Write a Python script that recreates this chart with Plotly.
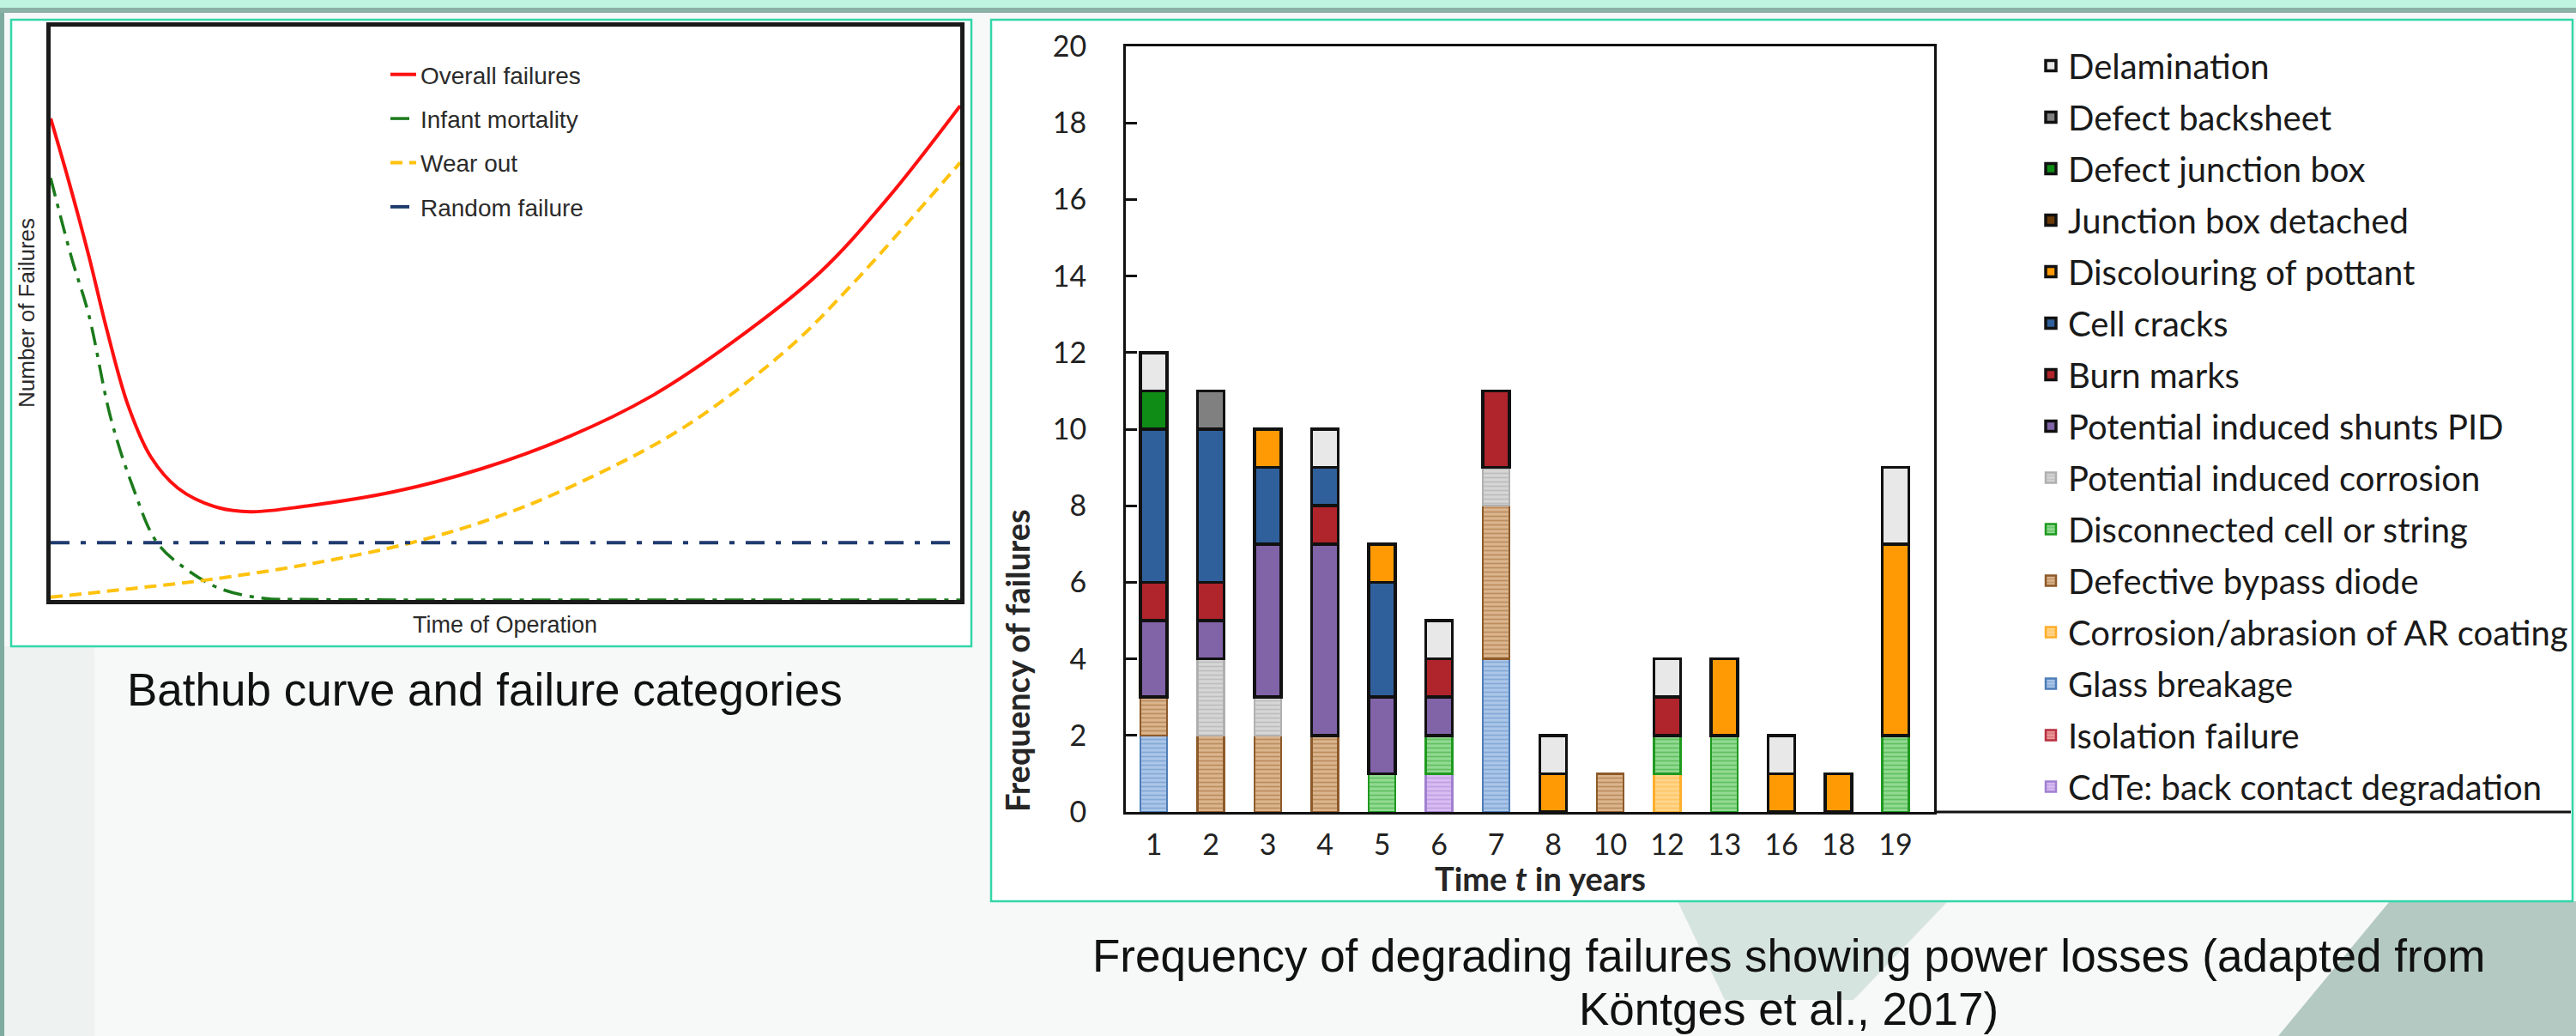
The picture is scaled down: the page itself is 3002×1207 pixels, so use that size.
import plotly.graph_objects as go

W, H = 3002, 1207

# ---------------- data: bar chart (frequency of failures) ----------------
years = ["1", "2", "3", "4", "5", "6", "7", "8", "10", "12", "13", "16", "18", "19"]

cdte_back_contact   = [0, 0, 0, 0, 0, 1, 0, 0, 0, 0, 0, 0, 0, 0]
isolation_failure   = [0, 0, 0, 0, 0, 0, 0, 0, 0, 0, 0, 0, 0, 0]
glass_breakage      = [2, 0, 0, 0, 0, 0, 4, 0, 0, 0, 0, 0, 0, 0]
corrosion_ar        = [0, 0, 0, 0, 0, 0, 0, 0, 0, 1, 0, 0, 0, 0]
bypass_diode        = [1, 2, 2, 2, 0, 0, 4, 0, 1, 0, 0, 0, 0, 0]
disconnected        = [0, 0, 0, 0, 1, 1, 0, 0, 0, 1, 2, 0, 0, 2]
pid_corrosion       = [0, 2, 1, 0, 0, 0, 1, 0, 0, 0, 0, 0, 0, 0]
pid_shunts          = [2, 1, 4, 5, 2, 1, 0, 0, 0, 0, 0, 0, 0, 0]
burn_marks          = [1, 1, 0, 1, 0, 1, 2, 0, 0, 1, 0, 0, 0, 0]
cell_cracks         = [4, 4, 2, 1, 3, 0, 0, 0, 0, 0, 0, 0, 0, 0]
discolouring        = [0, 0, 1, 0, 1, 0, 0, 1, 0, 0, 2, 1, 1, 5]
jbox_detached       = [0, 0, 0, 0, 0, 0, 0, 0, 0, 0, 0, 0, 0, 0]
defect_jbox         = [1, 0, 0, 0, 0, 0, 0, 0, 0, 0, 0, 0, 0, 0]
defect_backsheet    = [0, 1, 0, 0, 0, 0, 0, 0, 0, 0, 0, 0, 0, 0]
delamination        = [1, 0, 0, 1, 0, 1, 0, 1, 0, 1, 0, 1, 0, 2]

# ---------------- data: bathtub curve (0-100 scale) ----------------
overall_x = [0, 2, 4.2, 6.2, 8.5, 11, 14, 18, 22, 28.2, 37.8, 47.4, 57, 66, 75, 84.5, 92, 100]
overall_y = [84, 73, 60, 47, 34, 25, 19.5, 16.3, 15.4, 16.4, 18.9, 22.9, 28.5, 35.5, 45, 57, 70, 86.2]
infant_x = [0, 2.3, 4.2, 6.6, 9.0, 11.7, 14.8, 18.6, 23.4, 28, 60, 100]
infant_y = [73.6, 59.7, 49.7, 31.8, 19.9, 10.0, 5.5, 2.0, 0.3, 0.1, 0, 0]
wear_x = [0, 9, 17.2, 28.2, 39.7, 49.8, 59.4, 69.8, 80.9, 88.1, 100]
wear_y = [0.5, 2.0, 3.5, 6.2, 10.0, 14.9, 21.4, 30.3, 43.6, 55.0, 76.3]
random_x = [0, 98.9]
random_y = [10, 10]


def X(px):
    return px / W


def Y(py):
    return 1 - py / H


fig = go.Figure()

# ---------------- bar traces (bottom to top of stack) ----------------
solid = lambda c: dict(color=c, line=dict(color="#111111", width=3.5))


def hatched(bg, fg, edge):
    return dict(color=bg, line=dict(color=edge, width=2.5),
                pattern=dict(shape="-", bgcolor=bg, fgcolor=fg, size=5, solidity=0.35))


series = [
    ("CdTe: back contact degradation", cdte_back_contact, hatched("#d9bdf2", "#a783d6", "#a080d0")),
    ("Isolation failure", isolation_failure, hatched("#eb9a9a", "#c23d48", "#b83040")),
    ("Glass breakage", glass_breakage, hatched("#abc6e8", "#5e8cc6", "#4f7db8")),
    ("Corrosion/abrasion of AR coating", corrosion_ar, hatched("#ffd58a", "#ffb640", "#ffae2a")),
    ("Defective bypass diode", bypass_diode, hatched("#dbb58e", "#9c6630", "#8d5a2a")),
    ("Disconnected cell or string", disconnected, hatched("#93da93", "#2ea52e", "#1f9a1f")),
    ("Potential induced corrosion", pid_corrosion, hatched("#d6d6d6", "#a4a4a4", "#b0b0b0")),
    ("Potential induced shunts PID", pid_shunts, solid("#8163a8")),
    ("Burn marks", burn_marks, solid("#b0242b")),
    ("Cell cracks", cell_cracks, solid("#30609b")),
    ("Discolouring of pottant", discolouring, solid("#ff9a05")),
    ("Junction box detached", jbox_detached, solid("#6a3a08")),
    ("Defect junction box", defect_jbox, solid("#0f8c16")),
    ("Defect backsheet", defect_backsheet, solid("#808080")),
    ("Delamination", delamination, solid("#e8e8e8")),
]

for i, (name, vals, mk) in enumerate(series):
    fig.add_trace(go.Bar(
        x=years, y=[v if v else None for v in vals], name=name,
        marker=mk, width=0.47, legendgroup=name, legend="legend",
        legendrank=100 - i,
        xaxis="x", yaxis="y", hoverinfo="x+y+name",
    ))

# ---------------- bathtub lines ----------------
lines = [
    ("Overall failures", overall_x, overall_y, dict(color="#ff1010", width=4)),
    ("Infant mortality", infant_x, infant_y, dict(color="#1b7a1b", width=3.5, dash="22px,9px,5px,9px")),
    ("Wear out", wear_x, wear_y, dict(color="#ffc20e", width=4, dash="14px,8px")),
    ("Random failure", random_x, random_y, dict(color="#1f3b6e", width=4, dash="22px,13px,6px,13px")),
]
for i, (name, xs, ys, ln) in enumerate(lines):
    fig.add_trace(go.Scatter(
        x=xs, y=ys, name=name, mode="lines", line=dict(shape="spline", smoothing=1.0, **ln),
        xaxis="x2", yaxis="y2", legend="legend2", legendgroup=name, legendrank=i + 1,
    ))

# ---------------- background / panels ----------------
shapes = []
def rect(x0, y0, x1, y1, fill, line_color=None, lw=0, layer="below"):
    shapes.append(dict(type="rect", xref="paper", yref="paper",
                       x0=X(x0), x1=X(x1), y0=Y(y1), y1=Y(y0),
                       fillcolor=fill, line=dict(color=line_color or fill, width=lw), layer=layer))

rect(0, 0, W, 9, "#bff5e0")
rect(0, 9, W, 15, "#8bb1a6")
rect(0, 15, 5, H, "#7eab9f")
rect(5, 753, 110, H, "#eef2f0")
# light green-grey decorative shapes on lower right
shapes.append(dict(type="path", xref="paper", yref="paper", layer="below",
                   path=f"M {X(1955)},{Y(1050)} L {X(2270)},{Y(1050)} L {X(2160)},{Y(1165)} L {X(2010)},{Y(1165)} Z",
                   fillcolor="#d6e4df", line=dict(width=0)))
shapes.append(dict(type="path", xref="paper", yref="paper", layer="below",
                   path=f"M {X(2785)},{Y(1050)} L {X(W)},{Y(1050)} L {X(W)},{Y(H)} L {X(2655)},{Y(H)} Z",
                   fillcolor="#b3c9c1", line=dict(width=0)))
# white panels with teal borders
rect(13, 23, 1132, 753, "white", "#33d6a8", 2.5)
rect(1155, 23, 2998, 1050, "white", "#33d6a8", 2.5)
# x-axis line continuing under the legend
shapes.append(dict(type="line", xref="paper", yref="paper", layer="above",
                   x0=X(2254), x1=X(2996), y0=Y(946), y1=Y(946),
                   line=dict(color="#111111", width=3)))

annotations = [
    dict(text="Bathub curve and failure categories", x=X(565), y=Y(803),
         font=dict(family="Liberation Sans, Arial", size=53, color="#111111")),
    dict(text="Frequency of degrading failures showing power losses (adapted from", x=X(2084), y=Y(1113),
         font=dict(family="Liberation Sans, Arial", size=53, color="#111111")),
    dict(text="Köntges et al., 2017)", x=X(2084), y=Y(1175),
         font=dict(family="Liberation Sans, Arial", size=53, color="#111111")),
    dict(text="Time of Operation", x=X(588), y=Y(728),
         font=dict(family="Liberation Sans, Arial", size=27, color="#2b2b2b")),
    dict(text="Number of Failures", x=X(31), y=Y(365), textangle=-90,
         font=dict(family="Liberation Sans, Arial", size=26, color="#2b2b2b")),
    dict(text="<b>Frequency of failures</b>", x=X(1185), y=Y(770), textangle=-90,
         font=dict(family="Lato", size=38, color="#262626")),
    dict(text="<b>Time <i>t</i> in years</b>", x=X(1795), y=Y(1023),
         font=dict(family="Lato", size=38, color="#262626")),
]
for a in annotations:
    a.update(xref="paper", yref="paper", showarrow=False, xanchor="center", yanchor="middle")

fig.update_layout(
    width=W, height=H, autosize=False,
    margin=dict(l=0, r=0, t=0, b=0, pad=0, autoexpand=False),
    paper_bgcolor="#f7f8f8", plot_bgcolor="rgba(0,0,0,0)",
    barmode="stack", bargap=0.5,
    shapes=shapes, annotations=annotations,
    font=dict(family="Lato", color="#222222"),
    xaxis=dict(domain=[X(1312), X(2254)], type="category", range=[-0.489, 13.676],
               showline=True, linewidth=3, linecolor="#111111", mirror=True,
               ticks="", showgrid=False, zeroline=False, anchor="y", automargin=False,
               tickfont=dict(family="Lato", size=34, color="#222222"), ticklabelstandoff=6),
    yaxis=dict(domain=[Y(946), Y(54)], range=[0, 20], dtick=2, tick0=0,
               showline=True, linewidth=3, linecolor="#111111", mirror=True,
               ticks="inside", ticklen=13, tickwidth=3, tickcolor="#111111",
               showgrid=False, zeroline=False, anchor="x", automargin=False,
               tickfont=dict(family="Lato", size=34, color="#222222"), ticklabelstandoff=36),
    yaxis3=dict(overlaying="y", side="right", anchor="x", range=[0, 20], dtick=2, tick0=0,
                ticks="inside", ticklen=14, tickwidth=3, tickcolor="#111111",
                minor=dict(dtick=1, ticks="inside", ticklen=9, tickwidth=3, tickcolor="#111111"),
                showticklabels=False, showgrid=False, zeroline=False, showline=False,
                automargin=False),
    xaxis2=dict(domain=[X(59), X(1119)], range=[0, 100], showline=True, linewidth=4.5,
                linecolor="#1a1a1a", mirror=True, ticks="", showticklabels=False,
                showgrid=False, zeroline=False, anchor="y2", layer="below traces",
                automargin=False),
    yaxis2=dict(domain=[Y(699), Y(31)], range=[0, 100], showline=True, linewidth=4.5,
                linecolor="#1a1a1a", mirror=True, ticks="", showticklabels=False,
                showgrid=False, zeroline=False, anchor="x2", layer="below traces",
                automargin=False),
    legend=dict(x=X(2370), xanchor="left", y=Y(44), yanchor="top",
                font=dict(family="Lato", size=40, color="#1a1a1a"),
                traceorder="grouped", tracegroupgap=5,
                bgcolor="rgba(0,0,0,0)", borderwidth=0),
    legend2=dict(x=X(450), xanchor="left", y=Y(62), yanchor="top",
                 font=dict(family="Liberation Sans, Arial", size=28, color="#2b2b2b"),
                 traceorder="grouped", tracegroupgap=12,
                 bgcolor="rgba(0,0,0,0)", borderwidth=0),
    showlegend=True,
)

fig.write_html(
    "out.html",
    config={"displayModeBar": False},
    post_script="document.body.style.margin='0';document.body.style.overflow='hidden';",
)
